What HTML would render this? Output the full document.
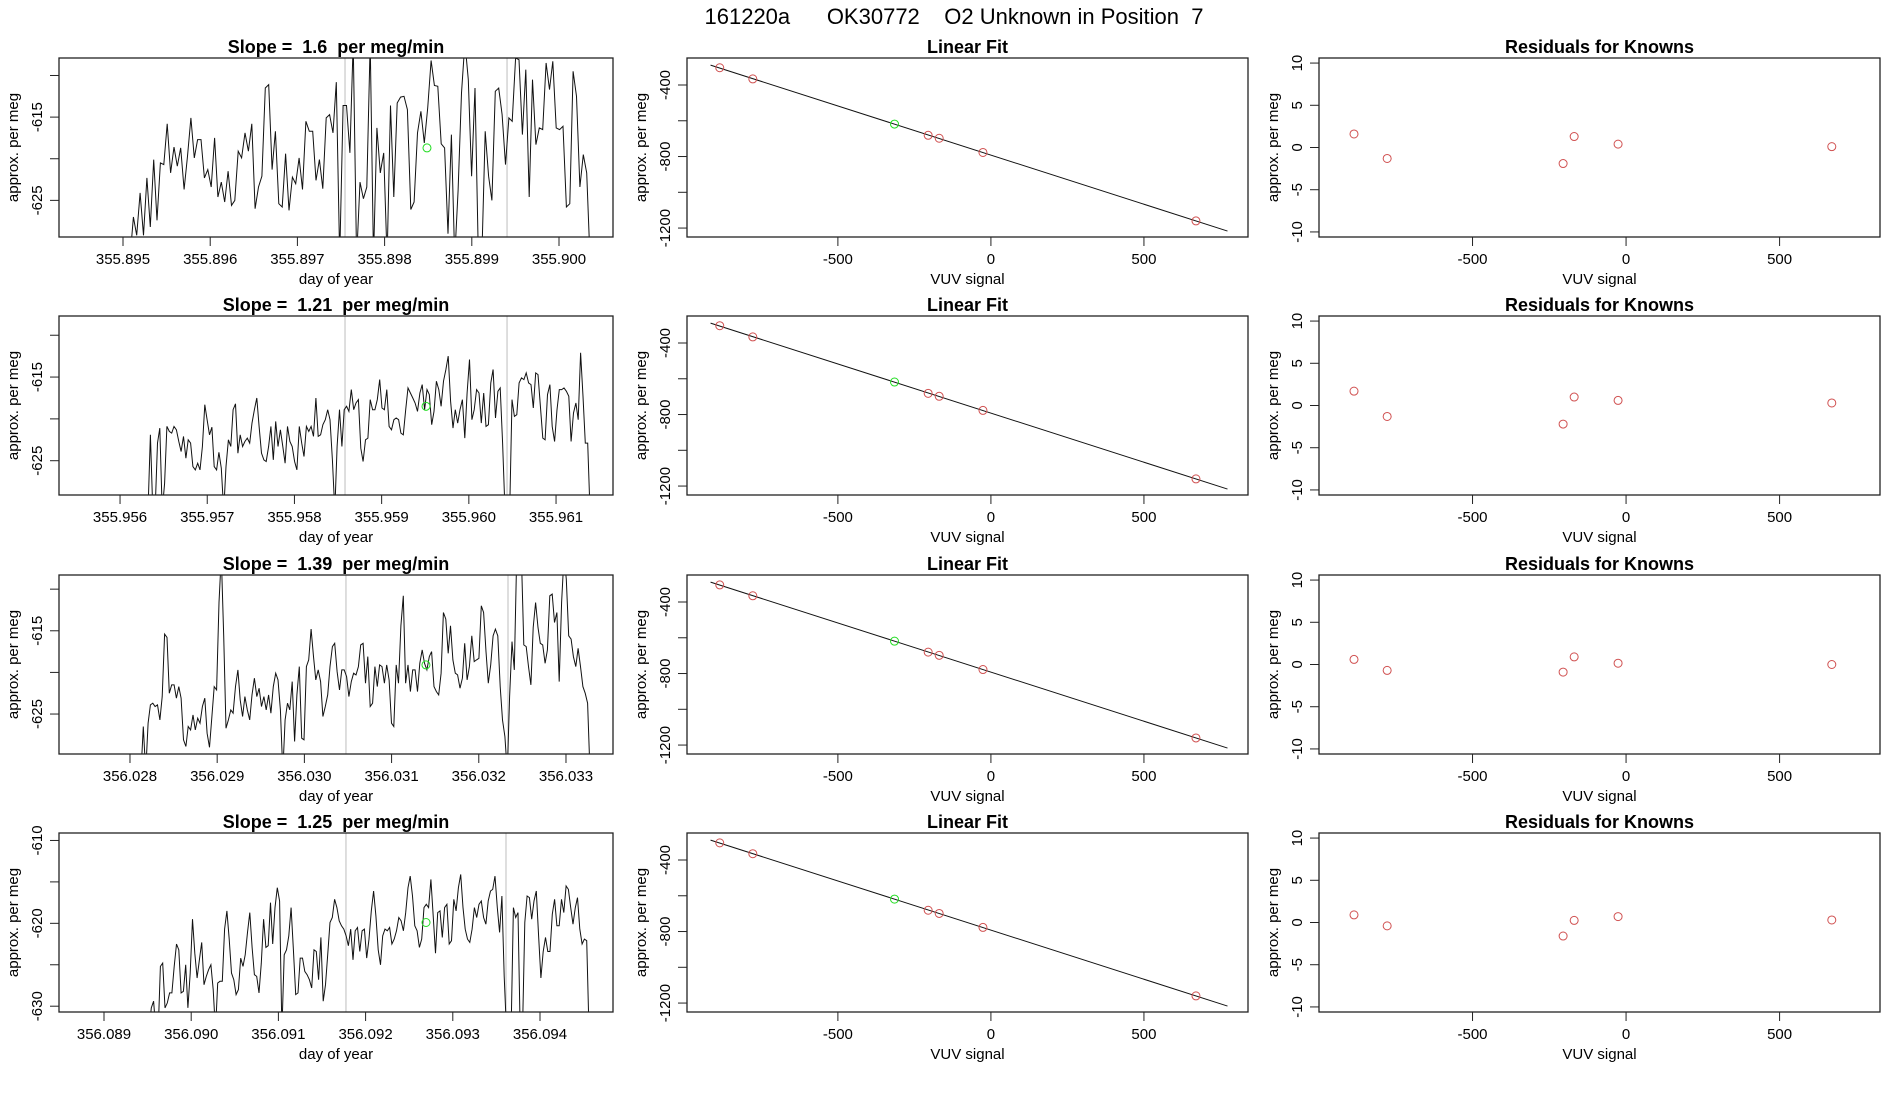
<!DOCTYPE html>
<html><head><meta charset="utf-8">
<style>
html,body{margin:0;padding:0;background:#fff;}
svg{display:block;font-family:"Liberation Sans",Arial,sans-serif;}
text{white-space:pre;}
</style></head>
<body>
<svg id="chart" width="1900" height="1100" viewBox="0 0 1900 1100" xmlns="http://www.w3.org/2000/svg">
<rect x="0" y="0" width="1900" height="1100" fill="#fff"/>
<text x="954" y="24" font-size="22" text-anchor="middle">161220a      OK30772    O2 Unknown in Position  7</text>
</svg>
<script>
// ---------- DATA ----------
const slopeLabels = ["1.6","1.21","1.39","1.25"];
const tsXMin = [355.894266, 355.955300, 356.027186, 356.088484];
const tsXTicks = [
  [355.895,355.896,355.897,355.898,355.899,355.900],
  [355.956,355.957,355.958,355.959,355.960,355.961],
  [356.028,356.029,356.030,356.031,356.032,356.033],
  [356.089,356.090,356.091,356.092,356.093,356.094]
];
const tsYLims = [[-629.4,-607.9],[-629.1,-607.7],[-629.8,-608.3],[-630.7,-609.1]];
const tsYTicks = [[-610,-615,-620,-625],[-610,-615,-620,-625],[-610,-615,-620,-625],[-610,-615,-620,-625,-630]];
const tsYTickLabels = [[-615,-625],[-615,-625],[-615,-625],[-610,-620,-630]];
const tsStart = [355.895080, 355.956321, 356.028126, 356.089516];
const tsEnd   = [355.900356, 355.961390, 356.033275, 356.094562];
const refLinesDay = [[355.897546,355.899404],[355.958580,355.960438],[356.030477,356.032335],[356.091775,356.093610]];
const unkDay = [355.898486, 355.959509, 356.031394, 356.092693];
const unkTsVal = [-618.7, -618.5, -619.1, -619.9];

const series1 = [-632,-627.0,-629.2,-624.1,-629.2,-622.3,-628.2,-620.1,-627.4,-620.5,-620.7,-615.8,-621.7,-618.6,-620.9,-618.7,-623.7,-619.7,-615.1,-619.9,-617.7,-617.7,-622.3,-621.3,-623.4,-617.5,-624.6,-622.8,-625.2,-621.5,-625.6,-625.0,-619.1,-619.9,-616.9,-619.1,-615.8,-626.0,-623.4,-622.1,-611.5,-611.1,-621.3,-616.7,-625.4,-625.8,-619.4,-626.2,-622.2,-623.0,-619.9,-623.7,-615.5,-616.7,-616.7,-622.6,-620.1,-623.6,-615.1,-614.7,-616.9,-610.8,-632,-613.6,-613.6,-619.3,-606,-632,-622.8,-624.8,-623.4,-606,-632,-616.3,-621.7,-619.3,-632,-613.6,-624.6,-613.3,-612.6,-612.5,-614.1,-626.1,-625.2,-616.9,-614.3,-618.1,-613.9,-608.2,-611.2,-611.3,-618.2,-618.7,-629.0,-617.1,-632,-623.8,-612.1,-606,-610.5,-622.1,-611.5,-632,-632,-616.7,-622.1,-625.0,-611.9,-611.5,-614.7,-620.7,-615.1,-615.5,-607.9,-608.1,-617.1,-609.3,-624.6,-610.5,-618.3,-616.3,-616.5,-608.5,-611.7,-608.3,-616.3,-616.5,-616.1,-625.8,-625.4,-609.5,-612.5,-623.4,-619.5,-621.7,-632];
const series2 = [-631,-621.9,-631,-631,-622.9,-621.1,-631,-627.7,-620.9,-621.5,-621.7,-620.9,-621.3,-622.7,-623.9,-622.1,-624.7,-622.5,-622.9,-625.7,-626.1,-625.3,-626.1,-623.3,-618.3,-620.1,-621.9,-621.0,-625.7,-626.1,-624.0,-625.9,-631,-625.7,-622.5,-623.3,-618.9,-618.2,-624.1,-621.9,-623.3,-622.7,-622.3,-622.9,-620.5,-618.9,-617.5,-620.9,-624.1,-624.9,-625.1,-623.3,-620.9,-624.9,-620.3,-623.3,-621.3,-623.3,-625.3,-620.9,-622.7,-623.3,-625.1,-626.1,-620.9,-622.9,-624.5,-620.9,-621.5,-620.9,-622.1,-617.5,-622.1,-621.9,-620.7,-620.1,-618.9,-620.1,-624.9,-631,-623.3,-618.9,-623.3,-618.9,-618.5,-619.1,-616.5,-618.9,-618.1,-617.7,-623.5,-625.1,-622.5,-622.3,-617.7,-618.9,-618.9,-617.7,-615.3,-618.7,-618.9,-616.5,-620.9,-621.3,-620.1,-619.9,-620.1,-621.7,-621.9,-618.9,-616.3,-616.9,-617.5,-618.1,-619.1,-616.9,-615.9,-618.9,-616.5,-617.1,-620.7,-619.1,-615.5,-616.5,-618.5,-615.5,-614.1,-612.5,-617.9,-621.1,-618.9,-620.5,-618.9,-617.7,-622.3,-616.9,-612.9,-620.1,-618.9,-616.5,-616.9,-620.5,-616.9,-620.9,-620.7,-615.7,-614.1,-619.9,-616.7,-616.3,-622.9,-631,-631,-631,-617.7,-619.7,-619.5,-615.7,-615.1,-615.3,-614.5,-615.7,-615.9,-618.7,-614.5,-614.7,-618.5,-622.3,-622.5,-617.1,-615.9,-620.9,-622.7,-618.9,-616.5,-616.5,-616.3,-616.7,-617.3,-622.7,-619.3,-618.1,-620.1,-612.1,-617.3,-622.9,-622.9,-631];
const series3 = [-632,-626.5,-632,-626.1,-623.9,-623.7,-624.1,-623.9,-625.7,-622.9,-615.4,-615.8,-622.5,-621.5,-621.5,-623.1,-621.7,-623.1,-628.1,-628.9,-626.5,-626.9,-625.1,-626.9,-625.5,-626.1,-624.1,-623.1,-627.3,-629.0,-625.3,-621.7,-622.1,-611.6,-606,-615.6,-626.7,-625.7,-624.5,-624.9,-621.7,-619.7,-623.3,-625.3,-622.9,-624.5,-625.7,-622.7,-620.7,-622.9,-621.9,-624.1,-622.9,-624.5,-622.7,-624.9,-621.7,-620.1,-620.9,-624.5,-632,-625.7,-623.7,-624.5,-621.1,-628.3,-622.7,-619.3,-627.9,-628.1,-619.3,-618.5,-614.8,-618.1,-620.9,-619.7,-621.1,-625.3,-624.1,-622.7,-619.3,-616.9,-616.5,-619.9,-622.1,-619.7,-619.7,-620.5,-622.9,-621.1,-620.1,-620.3,-619.3,-616.7,-616.5,-621.3,-618.1,-624.1,-623.7,-619.3,-621.7,-619.1,-619.3,-621.3,-619.1,-620.9,-626.1,-626.5,-619.1,-621.3,-614.4,-610.8,-621.3,-619.1,-622.3,-619.7,-619.7,-622.3,-618.9,-617.3,-618.9,-619.7,-618.1,-617.5,-621.7,-622.3,-622.7,-620.1,-612.8,-613.6,-617.7,-614.4,-618.5,-620.1,-620.3,-621.9,-620.7,-616.5,-620.9,-619.3,-615.6,-618.7,-618.5,-618.3,-612.0,-612.8,-617.5,-621.3,-619.1,-615.6,-614.8,-615.6,-621.7,-625.7,-627.7,-632,-622.9,-616.3,-619.7,-606,-606,-606,-616.7,-616.9,-619.3,-621.5,-614.6,-611.6,-614.6,-616.5,-616.7,-618.9,-617.3,-610.8,-610.6,-614.0,-612.8,-621.1,-611.6,-606,-608.8,-615.6,-616.0,-618.1,-619.3,-617.1,-619.3,-621.7,-622.5,-623.7,-632];
const series4 = [-633,-630.2,-629.4,-633,-633,-625.2,-624.8,-630.2,-629.6,-628.4,-628.4,-625.2,-622.5,-623.2,-628.4,-628.2,-625.0,-630.2,-626.0,-619.5,-623.6,-626.6,-624.4,-622.3,-627.4,-626.4,-625.6,-625.0,-628.0,-633,-627.2,-627.0,-627.0,-620.7,-618.5,-621.9,-626.0,-626.8,-628.6,-628.0,-624.2,-625.2,-623.8,-621.1,-618.7,-622.9,-626.2,-626.4,-628.4,-624.8,-619.5,-622.9,-622.7,-617.5,-622.5,-618.1,-615.7,-617.3,-633,-623.8,-623.2,-621.5,-618.1,-623.2,-628.6,-628.4,-624.2,-624.2,-625.8,-626.2,-626.8,-627.8,-623.2,-623.4,-626.8,-621.7,-629.4,-627.4,-623.8,-619.9,-619.3,-617.1,-618.1,-619.7,-620.3,-620.7,-621.5,-622.7,-620.7,-624.4,-620.9,-620.5,-623.4,-620.9,-620.7,-624.2,-621.9,-618.5,-616.1,-619.1,-623.2,-625.0,-621.5,-620.7,-620.9,-620.5,-622.5,-621.9,-620.9,-619.3,-619.7,-620.9,-618.7,-615.7,-614.3,-616.7,-620.3,-620.9,-622.9,-621.9,-618.1,-617.7,-618.1,-614.7,-619.1,-623.6,-618.7,-618.5,-621.7,-618.1,-617.7,-622.5,-622.1,-617.1,-618.5,-615.7,-614.1,-618.1,-620.7,-621.9,-622.3,-620.7,-618.1,-619.3,-617.7,-617.3,-619.3,-620.1,-617.3,-616.1,-615.9,-614.3,-618.1,-621.1,-616.7,-626.4,-633,-633,-633,-618.1,-619.3,-618.7,-633,-633,-619.9,-616.7,-616.9,-619.5,-617.3,-616.1,-621.5,-626.6,-623.4,-621.7,-623.4,-623.4,-618.9,-617.1,-620.3,-620.3,-617.1,-618.7,-615.5,-615.9,-618.1,-620.1,-618.1,-616.9,-620.7,-622.5,-621.9,-622.1,-633];
const allSeries = [series1, series2, series3, series4];

// Linear fit panels
const fitXLim = [-993, 840];
const fitYLim = [-1250, -249];
const fitYTicks = [-400,-600,-800,-1000,-1200];
const fitYTickLabels = [-400,-800,-1200];
const vuvTicks = [-500, 0, 500];
const knownX = [-886, -778, -205, -169, -26, 670];
const knownY1 = [-303.5, -365.8, -681.3, -697.8, -777.3, -1160.1];
const knownY2 = [-303.4, -365.8, -681.6, -698.1, -777.1, -1159.9];
const knownY3 = [-304.5, -365.2, -680.3, -698.2, -777.6, -1160.2];
const knownY4 = [-304.2, -364.9, -681.0, -698.9, -777.0, -1159.9];
const knownYs = [knownY1, knownY2, knownY3, knownY4];
const fitIntercept = [-792, -792, -792, -792];
const fitSlope = [-0.5495, -0.5495, -0.5495, -0.5495];
const fitLineX = [-916, 773];
const unkX = [-315, -315, -315, -315];
const unkY = [-618.5, -618.2, -618.9, -618.6];

// Residual panels
const resXLim = [-1000, 827];
const resYLim = [-10.6, 10.6];
const resYTicks = [-10, -5, 0, 5, 10];
const resid1 = [1.6, -1.3, -1.9, 1.3, 0.4, 0.1];
const resid2 = [1.7, -1.3, -2.2, 1.0, 0.6, 0.3];
const resid3 = [0.6, -0.7, -0.9, 0.9, 0.15, 0.0];
const resid4 = [0.9, -0.4, -1.6, 0.25, 0.7, 0.3];
const resids = [resid1, resid2, resid3, resid4];

// ---------- DRAWING ----------
const NS = "http://www.w3.org/2000/svg";
const svg = document.getElementById('chart');
const PH = 179;
const PWs = [554, 561, 561];
const rowTop = [58, 316, 575, 833];
const colLeft = [59, 687, 1319];
const TS_SCALE = 87200; // px per day
const RED = "#d05050", GREEN = "#22dd22";

function mk(tag, attrs, parent) {
  const e = document.createElementNS(NS, tag);
  for (const k in attrs) e.setAttribute(k, attrs[k]);
  (parent || svg).appendChild(e);
  return e;
}
function scale(d0, d1, r0, r1) { return v => r0 + (v - d0) / (d1 - d0) * (r1 - r0); }

function axes(g, left, top, PW, sx, sy, xticks, xlabels, yticks, ylabels, xTitle, title) {
  const box = mk('rect', {x:left, y:top, width:PW, height:PH, fill:'none', stroke:'#222', 'stroke-width':1.3}, g);
  
  
  const xa = mk('g', {}, g);
  
  
  xticks.forEach((t, i) => {
    const x = sx(t);
    mk('line', {x1:x, x2:x, y1:top+PH, y2:top+PH+9, stroke:'#222'}, xa);
    const tx = mk('text', {x:x, y:top+PH+27, 'font-size':15, 'text-anchor':'middle'}, xa);
    tx.textContent = xlabels[i];
    
    
  });
  const xt = mk('text', {x:left+PW/2, y:top+PH+47, 'font-size':15, 'text-anchor':'middle'}, g);
  xt.textContent = xTitle;
  
  
  const ya = mk('g', {}, g);
  
  
  yticks.forEach(t => {
    const y = sy(t);
    mk('line', {x1:left-9, x2:left, y1:y, y2:y, stroke:'#222'}, ya);
  });
  ylabels.forEach(t => {
    const y = sy(t);
    const tx = mk('text', {x:0, y:0, 'font-size':15, 'text-anchor':'middle', transform:`translate(${left-17},${y}) rotate(-90)`}, ya);
    tx.textContent = t;
    
    
  });
  const yt = mk('text', {x:0, y:0, 'font-size':15, 'text-anchor':'middle', transform:`translate(${left-41},${top+PH/2}) rotate(-90)`}, g);
  yt.textContent = 'approx. per meg';
  
  
  const ti = mk('text', {x:left+PW/2, y:top-5, 'font-size':18, 'font-weight':'bold', 'text-anchor':'middle'}, g);
  ti.textContent = title;
  
  
}

const defs = mk('defs', {});

for (let r = 0; r < 4; r++) {
  const top = rowTop[r];
  {
    const left = colLeft[0], PW = PWs[0];
    const g = mk('g', {});
    
    
    const sx = scale(tsXMin[r], tsXMin[r] + PW / TS_SCALE, left, left + PW);
    const sy = scale(tsYLims[r][0], tsYLims[r][1], top + PH, top);
    const cp = mk('clipPath', {id:'clip' + r}, defs);
    mk('rect', {x:left, y:top, width:PW, height:PH}, cp);
    refLinesDay[r].forEach(d => {
      const l = mk('line', {x1:sx(d), x2:sx(d), y1:top, y2:top+PH, stroke:'#c8c8c8', 'stroke-width':1.2}, g);
      
      
    });
    const s = allSeries[r];
    const n = s.length;
    const pts = s.map((v, i) => {
      const t = tsStart[r] + (tsEnd[r] - tsStart[r]) * i / (n - 1);
      return sx(t).toFixed(1) + ',' + sy(v).toFixed(1);
    }).join(' ');
    const pl = mk('polyline', {points:pts, fill:'none', stroke:'#111', 'stroke-width':1, 'clip-path':`url(#clip${r})`}, g);
    
    
    const c = mk('circle', {cx:sx(unkDay[r]), cy:sy(unkTsVal[r]), r:4, fill:'none', stroke:GREEN, 'stroke-width':1}, g);
    
    
    axes(g, left, top, PW, sx, sy, tsXTicks[r], tsXTicks[r].map(v => v.toFixed(3)), tsYTicks[r], tsYTickLabels[r], 'day of year', 'Slope =  ' + slopeLabels[r] + '  per meg/min');
  }
  {
    const left = colLeft[1], PW = PWs[1];
    const g = mk('g', {});
    
    
    const sx = scale(fitXLim[0], fitXLim[1], left, left + PW);
    const sy = scale(fitYLim[0], fitYLim[1], top + PH, top);
    const ln = mk('line', {x1:sx(fitLineX[0]), y1:sy(fitIntercept[r] + fitSlope[r]*fitLineX[0]), x2:sx(fitLineX[1]), y2:sy(fitIntercept[r] + fitSlope[r]*fitLineX[1]), stroke:'#111', 'stroke-width':1}, g);
    
    
    knownX.forEach((x, i) => {
      const c = mk('circle', {cx:sx(x), cy:sy(knownYs[r][i]), r:4, fill:'none', stroke:RED, 'stroke-width':1}, g);
      
      
    });
    const u = mk('circle', {cx:sx(unkX[r]), cy:sy(unkY[r]), r:4, fill:'none', stroke:GREEN, 'stroke-width':1}, g);
    
    
    axes(g, left, top, PW, sx, sy, vuvTicks, vuvTicks.map(String), fitYTicks, fitYTickLabels, 'VUV signal', 'Linear Fit');
  }
  {
    const left = colLeft[2], PW = PWs[2];
    const g = mk('g', {});
    
    
    const sx = scale(resXLim[0], resXLim[1], left, left + PW);
    const sy = scale(resYLim[0], resYLim[1], top + PH, top);
    knownX.forEach((x, i) => {
      const c = mk('circle', {cx:sx(x), cy:sy(resids[r][i]), r:4, fill:'none', stroke:RED, 'stroke-width':1}, g);
      
      
    });
    axes(g, left, top, PW, sx, sy, vuvTicks, vuvTicks.map(String), resYTicks, resYTicks, 'VUV signal', 'Residuals for Knowns');
  }
}
</script>
</body></html>
